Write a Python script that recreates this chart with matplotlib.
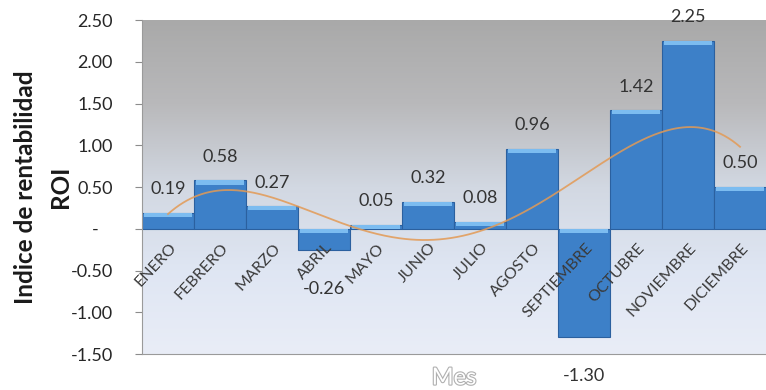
import numpy as np
import matplotlib.pyplot as plt
import matplotlib.patheffects as pe
from matplotlib.colors import LinearSegmentedColormap

meses = ['ENERO', 'FEBRERO', 'MARZO', 'ABRIL', 'MAYO', 'JUNIO', 'JULIO',
         'AGOSTO', 'SEPTIEMBRE', 'OCTUBRE', 'NOVIEMBRE', 'DICIEMBRE']
roi = [0.19, 0.58, 0.27, -0.26, 0.05, 0.32, 0.08, 0.96, -1.30, 1.42, 2.25, 0.50]
yticks = [2.5, 2.0, 1.5, 1.0, 0.5, 0.0, -0.5, -1.0, -1.5]

plt.rcParams['font.family'] = ['Lato', 'DejaVu Sans']

fig = plt.figure(figsize=(7.66, 3.90), dpi=100)
ax = fig.add_axes([0.1854, 0.0923, 0.8146, 0.8564])

x = np.arange(len(meses))
ax.set_xlim(-0.5, len(meses) - 0.5)
ax.set_ylim(-1.5, 2.5)

# fondo degradado gris -> azul claro
fondo = LinearSegmentedColormap.from_list(
    'fondo', ['#e9edf7', '#dfe6f3', '#d2d8e2', '#b9b9bb', '#a9a9a9'])
grad = np.linspace(0, 1, 256).reshape(-1, 1)
ax.imshow(grad, cmap=fondo, origin='lower', aspect='auto',
          extent=[-0.5, len(meses) - 0.5, -1.5, 2.5], zorder=0)

# barras con brillo en la parte superior
ax.bar(x, roi, width=1.0, color='#3d80c8', edgecolor='#2b609f', linewidth=0.8, zorder=2)
tope = [max(v, 0) for v in roi]
ax.bar(x, [0.05] * len(roi), bottom=[t - 0.05 for t in tope], width=0.92,
       color='#7cbcf0', linewidth=0, zorder=3)

# linea de tendencia polinomica
coef = np.polyfit(x, roi, 4)
xs = np.linspace(0, len(meses) - 1, 300)
ax.plot(xs, np.polyval(coef, xs), color='#e39a55', lw=1.3, alpha=0.85, zorder=4)

# etiquetas de datos
for xi, v in zip(x, roi):
    off = 17 if v >= 0 else -28
    ax.annotate(f'{v:.2f}', (xi, v), xytext=(0, off), textcoords='offset points',
                ha='center', va='center', fontsize=13, color='#333333',
                zorder=5, annotation_clip=False)

# nombres de los meses junto al eje cero
for xi, m in zip(x, meses):
    ax.text(xi + 0.02, -0.14, m, rotation=47, rotation_mode='anchor',
            ha='right', va='top', fontsize=11.5, color='#3a3a3a', zorder=5)

ax.set_xticks([])
ax.set_yticks(yticks)
ax.set_yticklabels(['-   ' if t == 0 else f'{t:.2f}' for t in yticks],
                   fontsize=13, color='#262626')
ax.tick_params(axis='y', length=5, color='#8c8c8c', pad=16)

for s in ['top', 'right']:
    ax.spines[s].set_visible(False)
ax.spines['left'].set_color('#9a9a9a')
ax.spines['bottom'].set_color('#9a9a9a')

ax.set_ylabel('Indice de rentabilidad\nROI', fontsize=17.5, fontweight='bold',
              color='#1a1a1a', linespacing=1.6)
ax.yaxis.set_label_coords(-0.113, 0.5)

ax.text(0.5, -0.072, 'Mes', transform=ax.transAxes, ha='center', va='center',
        fontsize=17, color='white',
        path_effects=[pe.withStroke(linewidth=1.6, foreground='#b0b0b0')])

fig.savefig('out.png', dpi=100)
